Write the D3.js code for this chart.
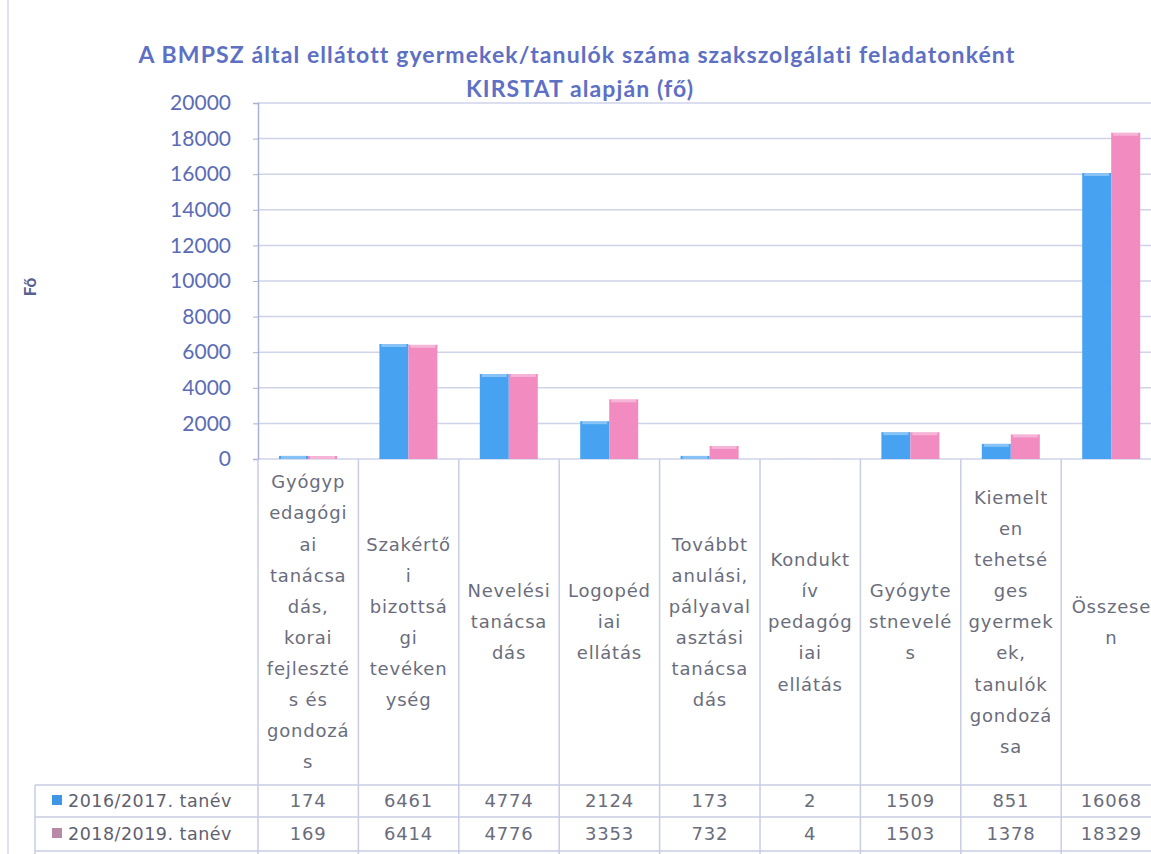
<!DOCTYPE html>
<html>
<head>
<meta charset="utf-8">
<script src="https://cdn.jsdelivr.net/npm/d3@7"></script>
<style>
  body { margin: 0; background: #fff; }
  svg { display: block; }
</style>
</head>
<body>
<script>
// data
var categories = [
  "Gyógypedagógiai tanácsadás, korai fejlesztés és gondozás",
  "Szakértői bizottsági tevékenység",
  "Nevelési tanácsadás",
  "Logopédiai ellátás",
  "Továbbtanulási, pályaválasztási tanácsadás",
  "Konduktív pedagógiai ellátás",
  "Gyógytestnevelés",
  "Kiemelten tehetséges gyermekek, tanulók gondozása",
  "Összesen"
];
// the way the category names wrap in the picture
var categoryLines = [
  ["Gyógyp", "edagógi", "ai", "tanácsa", "dás,", "korai", "fejleszté", "s és", "gondozá", "s"],
  ["Szakértő", "i", "bizottsá", "gi", "tevéken", "ység"],
  ["Nevelési", "tanácsa", "dás"],
  ["Logopéd", "iai", "ellátás"],
  ["Továbbt", "anulási,", "pályaval", "asztási", "tanácsa", "dás"],
  ["Kondukt", "ív", "pedagóg", "iai", "ellátás"],
  ["Gyógyte", "stnevelé", "s"],
  ["Kiemelt", "en", "tehetsé", "ges", "gyermek", "ek,", "tanulók", "gondozá", "sa"],
  ["Összese", "n"]
];
var seriesNames = ["2016/2017. tanév", "2018/2019. tanév"];
var values2016 = [174, 6461, 4774, 2124, 173, 2, 1509, 851, 16068];
var values2018 = [169, 6414, 4776, 3353, 732, 4, 1503, 1378, 18329];
var yTicks = [0, 2000, 4000, 6000, 8000, 10000, 12000, 14000, 16000, 18000, 20000];

var seriesValues = [values2016, values2018];
var colors = ["#47a3f2", "#f28cc0"];
var keyColors = ["#3f95e6", "#b98aa8"];

var svgWidth = 1151;
var svgHeight = 854;

var svg = d3.select("body")
  .append("svg")
  .attr("width", svgWidth)
  .attr("height", svgHeight);

svg.append("rect")
  .attr("width", svgWidth)
  .attr("height", svgHeight)
  .attr("fill", "#fff");

// faint chart border on the left
svg.append("line")
  .attr("x1", 8).attr("x2", 8)
  .attr("y1", 0).attr("y2", svgHeight)
  .attr("stroke", "#d6daee")
  .attr("stroke-width", 1.5);

var plotLeft = 258;
var plotTop = 103;
var plotBottom = 459;
var bandW = 100.4;
var plotRight = plotLeft + bandW * categories.length;

var xscale = d3.scaleBand()
  .domain(categories)
  .range([plotLeft, plotRight])
  .padding(0);

var xinner = d3.scaleBand()
  .domain([0, 1])
  .range([21, 79])
  .padding(0);

var yscale = d3.scaleLinear()
  .domain([0, 20000])
  .range([plotBottom, plotTop]);

// title
var title = svg.append("text")
  .attr("text-anchor", "middle")
  .style("font-family", "Lato, 'Open Sans', sans-serif")
  .style("font-weight", "bold")
  .style("font-size", "23px")
  .style("letter-spacing", "1.1px")
  .attr("fill", "#5d70c4");
title.append("tspan").attr("x", 577).attr("y", 63)
  .text("A BMPSZ által ellátott gyermekek/tanulók száma szakszolgálati feladatonként");
title.append("tspan").attr("x", 580).attr("y", 97)
  .text("KIRSTAT alapján (fő)");

// gridlines
svg.append("g")
  .selectAll("line")
  .data(yTicks)
  .enter()
  .append("line")
  .attr("x1", plotLeft)
  .attr("x2", plotRight)
  .attr("y1", d => yscale(d))
  .attr("y2", d => yscale(d))
  .attr("stroke", "#cfd3e8")
  .attr("stroke-width", 1.5);

// y axis
var leftAxis = d3.axisLeft(yscale)
  .tickValues(yTicks)
  .tickSize(5)
  .tickPadding(22)
  .tickFormat(d3.format("d"));

var yAxisG = svg.append("g")
  .attr("transform", `translate(${plotLeft}, 0)`)
  .call(leftAxis);
yAxisG.select(".domain").attr("stroke", "#aab1d4").attr("stroke-width", 1.5);
yAxisG.selectAll(".tick line").attr("stroke", "#aab1d4");
yAxisG.selectAll(".tick text")
  .style("font-family", "Lato, sans-serif")
  .style("font-size", "21px")
  .attr("fill", "#5b6cb6");

// y axis title
svg.append("text")
  .attr("transform", "translate(36, 287) rotate(-90)")
  .attr("text-anchor", "middle")
  .style("font-family", "Lato, sans-serif")
  .style("font-weight", "bold")
  .style("font-size", "17px")
  .attr("fill", "#5a6090")
  .text("Fő");

// bars
var groups = svg.append("g")
  .selectAll("g")
  .data(categories)
  .enter()
  .append("g")
  .attr("transform", d => `translate(${xscale(d)}, 0)`);

groups.selectAll("rect.bar")
  .data((d, i) => seriesValues.map((s, j) => ({ s: j, v: s[i] })))
  .enter()
  .append("rect")
  .attr("class", "bar")
  .attr("x", d => xinner(d.s))
  .attr("width", xinner.bandwidth())
  .attr("y", d => yscale(d.v))
  .attr("height", d => plotBottom - yscale(d.v))
  .attr("fill", d => colors[d.s]);

// light top edge of the bars
groups.selectAll("rect.top")
  .data((d, i) => seriesValues.map((s, j) => ({ s: j, v: s[i] })))
  .enter()
  .append("rect")
  .attr("class", "top")
  .attr("x", d => xinner(d.s) + 2)
  .attr("width", xinner.bandwidth() - 4)
  .attr("y", d => yscale(d.v))
  .attr("height", d => Math.min(3, plotBottom - yscale(d.v)))
  .attr("fill", "#ffffff")
  .attr("opacity", 0.35);

// table lines
var tableTop = 785;
var rowMid = 817;
var tableBottom = 851;
var lineColor = "#c9cde3";

svg.append("g")
  .selectAll("line")
  .data(d3.range(categories.length + 1))
  .enter()
  .append("line")
  .attr("x1", i => plotLeft + i * bandW)
  .attr("x2", i => plotLeft + i * bandW)
  .attr("y1", plotBottom)
  .attr("y2", svgHeight)
  .attr("stroke", lineColor)
  .attr("stroke-width", 1.5);

svg.append("line")
  .attr("x1", 35).attr("x2", 35)
  .attr("y1", tableTop).attr("y2", svgHeight)
  .attr("stroke", lineColor).attr("stroke-width", 1.5);

[tableTop, rowMid, tableBottom].forEach(function(y) {
  svg.append("line")
    .attr("x1", 35).attr("x2", plotRight)
    .attr("y1", y).attr("y2", y)
    .attr("stroke", lineColor).attr("stroke-width", 1.5);
});

// category labels
var lineH = 31.1;
var labelMid = 622;
groups.append("text")
  .attr("text-anchor", "middle")
  .style("font-family", "'DejaVu Sans', sans-serif")
  .style("font-size", "18px")
  .style("letter-spacing", "0.8px")
  .attr("fill", "#6a6d7c")
  .each(function(d, i) {
    var lines = categoryLines[i];
    var y0 = labelMid - (lines.length - 1) * lineH / 2;
    var t = d3.select(this);
    lines.forEach(function(l, k) {
      t.append("tspan")
        .attr("x", bandW / 2)
        .attr("y", y0 + k * lineH)
        .attr("dy", "0.35em")
        .text(l);
    });
  });

// table rows
var rowY = [801, 834];
seriesNames.forEach(function(name, j) {
  svg.append("rect")
    .attr("x", 52)
    .attr("y", rowY[j] - 6)
    .attr("width", 10)
    .attr("height", 10)
    .attr("fill", keyColors[j]);
  svg.append("text")
    .attr("x", 68)
    .attr("y", rowY[j])
    .attr("dy", "0.35em")
    .style("font-family", "'DejaVu Sans', sans-serif")
    .style("font-size", "17.5px")
    .style("letter-spacing", "0.5px")
    .attr("fill", "#5e6170")
    .text(name);
  svg.append("g")
    .selectAll("text")
    .data(seriesValues[j])
    .enter()
    .append("text")
    .attr("x", (d, i) => xscale(categories[i]) + bandW / 2)
    .attr("y", rowY[j])
    .attr("dy", "0.35em")
    .attr("text-anchor", "middle")
    .style("font-family", "'DejaVu Sans', sans-serif")
    .style("font-size", "18px")
    .style("letter-spacing", "0.8px")
    .attr("fill", "#6a6d7c")
    .text(d => d);
});
</script>
</body>
</html>
